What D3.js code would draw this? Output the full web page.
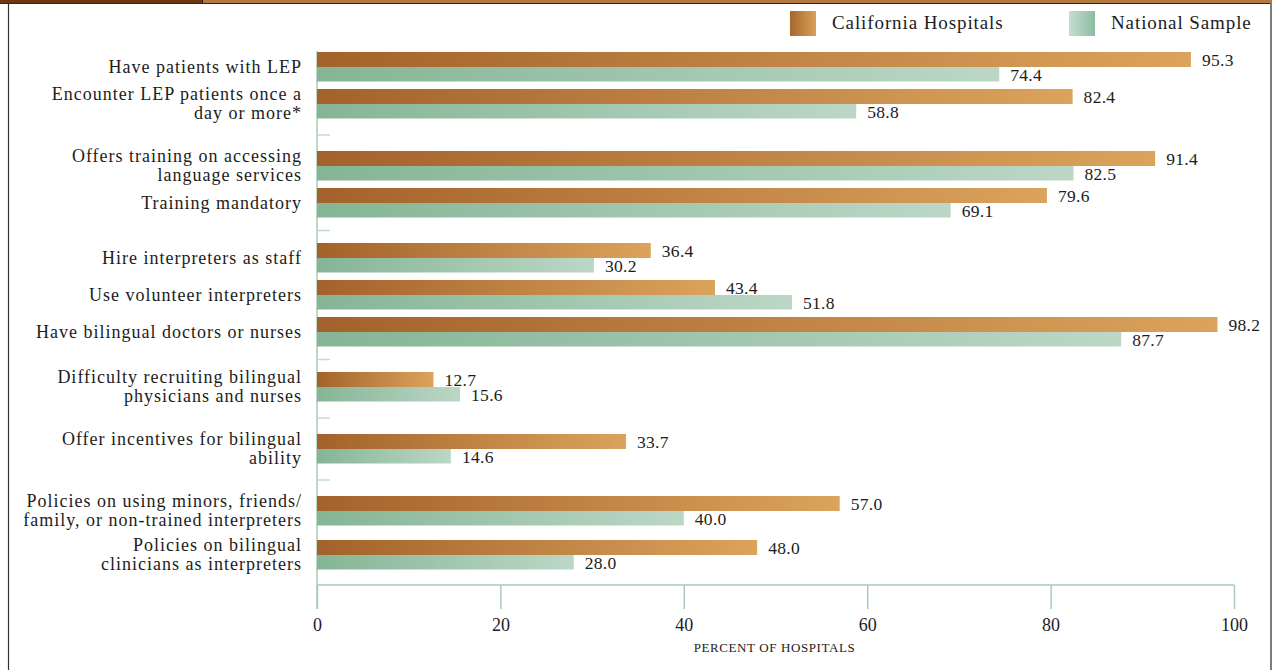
<!DOCTYPE html>
<html>
<head>
<meta charset="utf-8">
<script src="https://cdn.jsdelivr.net/npm/d3@7"></script>
<style>
  html, body { margin: 0; padding: 0; background: #fff; }
  svg { display: block; }
  text { font-family: "Liberation Serif", "Times New Roman", serif; fill: #1c1c1c; }
</style>
</head>
<body>
<svg id="chart" width="1274" height="670"></svg>
<script>
// Survey items (multi-line labels split with "\n")
const categories = [
  "Have patients with LEP",
  "Encounter LEP patients once a\nday or more*",
  "Offers training on accessing\nlanguage services",
  "Training mandatory",
  "Hire interpreters as staff",
  "Use volunteer interpreters",
  "Have bilingual doctors or nurses",
  "Difficulty recruiting bilingual\nphysicians and nurses",
  "Offer incentives for bilingual\nability",
  "Policies on using minors, friends/\nfamily, or non-trained interpreters",
  "Policies on bilingual\nclinicians as interpreters"
];
// Topic group each item belongs to
const groups = [0, 0, 1, 1, 2, 2, 2, 3, 4, 5, 5];
const california = [95.3, 82.4, 91.4, 79.6, 36.4, 43.4, 98.2, 12.7, 33.7, 57.0, 48.0];
const national   = [74.4, 58.8, 82.5, 69.1, 30.2, 51.8, 87.7, 15.6, 14.6, 40.0, 28.0];
const seriesNames = ["California Hospitals", "National Sample"];
const xTicks = [0, 20, 40, 60, 80, 100];
const axisTitle = "PERCENT OF HOSPITALS";

const svg = d3.select("#chart");
const W = 1274, H = 670;

// Page frame
svg.append("rect").attr("x", 0).attr("y", 0).attr("width", 203).attr("height", 3).attr("fill", "#6c3813");
svg.append("rect").attr("x", 203).attr("y", 0).attr("width", 1069).attr("height", 3).attr("fill", "#b27a40");
svg.append("line").attr("x1", 202.5).attr("x2", 202.5).attr("y1", 0).attr("y2", 3).attr("stroke", "#222");
svg.append("line").attr("x1", 0).attr("x2", 1272).attr("y1", 3.5).attr("y2", 3.5).attr("stroke", "#2a2a2a").attr("stroke-width", 1);
svg.append("line").attr("x1", 8.5).attr("x2", 8.5).attr("y1", 3).attr("y2", H).attr("stroke", "#333").attr("stroke-width", 1.2);
svg.append("line").attr("x1", 1271).attr("x2", 1271).attr("y1", 3).attr("y2", H).attr("stroke", "#7d7d7d").attr("stroke-width", 2);

// Gradients
const defs = svg.append("defs");
function grad(id, from, to) {
  const g = defs.append("linearGradient").attr("id", id)
    .attr("x1", "0%").attr("x2", "100%").attr("y1", "0%").attr("y2", "0%");
  g.append("stop").attr("offset", "0%").attr("stop-color", from);
  g.append("stop").attr("offset", "100%").attr("stop-color", to);
}
grad("gCal", "#a3622b", "#dba35c");
grad("gNat", "#85b596", "#bcd7c6");
grad("gCalKey", "#a8672d", "#d9a05a");
grad("gNatKey", "#c6ddd0", "#8dbca0");

// Scales
const x = d3.scaleLinear().domain([0, 100]).range([317, 1234]);
const barH = 15, lineH = 19, groupGap = 18;
// Row offsets: taller step between two-line labels, extra gap between topic groups
const lineCount = categories.map(c => c.split("\n").length);
const offsets = [];
categories.forEach((c, i) => {
  if (i === 0) { offsets.push(0); return; }
  let step = Math.max(37, (lineCount[i] + lineCount[i - 1]) / 2 * 18 + 8);
  if (groups[i] !== groups[i - 1]) step += groupGap;
  offsets.push(offsets[i - 1] + step);
});
const y = d3.scaleLinear().domain([0, 1]).range([52, 53]);

// Axis lines
const axisColor = "#a9cbb6";
const axisY = 585;
svg.append("line").attr("x1", x(0)).attr("x2", x(100)).attr("y1", axisY).attr("y2", axisY)
  .attr("stroke", axisColor).attr("stroke-width", 1.5);
svg.append("line").attr("x1", x(0)).attr("x2", x(0)).attr("y1", 51).attr("y2", 609)
  .attr("stroke", axisColor).attr("stroke-width", 1.5);

const xAxis = d3.axisBottom(x).tickValues(xTicks).tickSize(24).tickPadding(9).tickFormat(d3.format("d"));
const gx = svg.append("g").attr("transform", `translate(0,${axisY})`).call(xAxis);
gx.select(".domain").remove();
gx.selectAll(".tick line").attr("stroke", axisColor).attr("stroke-width", 1.5);
gx.selectAll(".tick text").attr("font-size", 18).attr("fill", "#1c1c1c")
  .style("font-family", "Liberation Serif, serif");

svg.append("text").attr("x", x(50) - 1).attr("y", 652).attr("text-anchor", "middle")
  .attr("font-size", 13).attr("letter-spacing", 0.6).text(axisTitle);

// Group separator ticks on the left axis
for (let i = 1; i < categories.length; i++) {
  if (groups[i] !== groups[i - 1]) {
    const yy = (y(offsets[i - 1]) + 2 * barH + y(offsets[i])) / 2;
    svg.append("line").attr("x1", x(0)).attr("x2", x(0) + 13).attr("y1", yy).attr("y2", yy)
      .attr("stroke", "#c2dccc").attr("stroke-width", 1.5);
  }
}

// Bars
const rows = svg.append("g").selectAll("g").data(categories).join("g")
  .attr("transform", (d, i) => `translate(0,${y(offsets[i])})`);

rows.append("rect").attr("x", x(0)).attr("y", 0)
  .attr("width", (d, i) => x(california[i]) - x(0)).attr("height", barH).attr("fill", "url(#gCal)");
rows.append("rect").attr("x", x(0)).attr("y", barH)
  .attr("width", (d, i) => x(national[i]) - x(0)).attr("height", barH - 0.5).attr("fill", "url(#gNat)");

// Value labels
rows.append("text").attr("x", (d, i) => x(california[i]) + 11).attr("y", barH / 2)
  .attr("dy", "0.35em").attr("font-size", 17.5).attr("letter-spacing", 0.3).text((d, i) => california[i].toFixed(1));
rows.append("text").attr("x", (d, i) => x(national[i]) + 11).attr("y", barH * 1.5 + 0.5)
  .attr("dy", "0.35em").attr("font-size", 17.5).attr("letter-spacing", 0.3).text((d, i) => national[i].toFixed(1));

// Category labels
rows.each(function (d) {
  const lines = d.split("\n");
  const t = d3.select(this).append("text").attr("x", 302).attr("text-anchor", "end")
    .attr("font-size", 18).attr("letter-spacing", 1.0);
  lines.forEach((ln, k) => {
    t.append("tspan").attr("x", 302)
      .attr("y", barH + (k - (lines.length - 1) / 2) * lineH)
      .attr("dy", "0.33em").text(ln);
  });
});

// Legend
const legend = [
  { name: seriesNames[0], fill: "url(#gCalKey)", x: 790 },
  { name: seriesNames[1], fill: "url(#gNatKey)", x: 1069 }
];
const lg = svg.append("g").selectAll("g").data(legend).join("g")
  .attr("transform", d => `translate(${d.x},11)`);
lg.append("rect").attr("width", 26).attr("height", 25).attr("fill", d => d.fill);
lg.append("text").attr("x", 42).attr("y", 11.5).attr("dy", "0.33em").attr("font-size", 19)
  .attr("letter-spacing", 0.9).text(d => d.name);
</script>
</body>
</html>
